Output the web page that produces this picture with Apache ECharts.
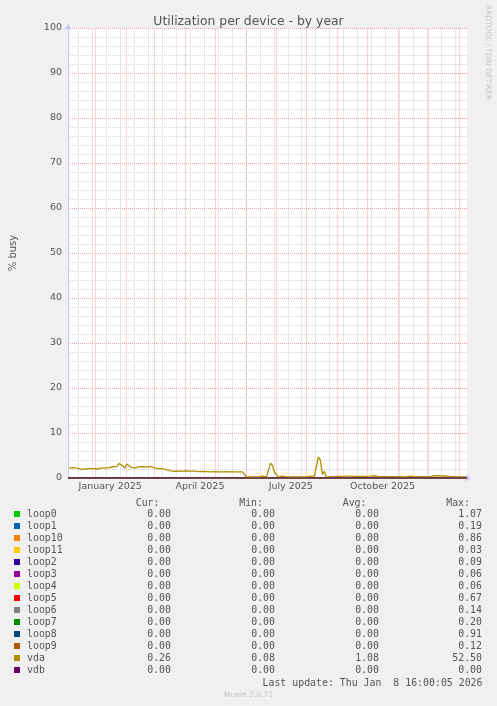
<!DOCTYPE html>
<html>
<head>
<meta charset="utf-8">
<script src="https://cdn.jsdelivr.net/npm/echarts@6/dist/echarts.min.js"></script>
<style>
  html, body { margin: 0; padding: 0; background: #f0f0f0; }
  #chart { width: 497px; height: 706px; }
</style>
</head>
<body>
<div id="chart"></div>
<script>
const DAY = 86400000;
const startTime = Date.UTC(2024, 11, 4, 16, 0, 5);   // 400 days before last update
const endTime = Date.UTC(2026, 0, 8, 16, 0, 5);
const sampleStepDays = 2;

const devices = ['loop0', 'loop1', 'loop10', 'loop11', 'loop2', 'loop3', 'loop4',
  'loop5', 'loop6', 'loop7', 'loop8', 'loop9', 'vda', 'vdb'];
const deviceColors = ['#00CC00', '#0066B3', '#FF8000', '#FFCC00', '#330099', '#990099', '#CCFF00',
  '#FF0000', '#808080', '#008F00', '#00487D', '#B35A00', '#B38F00', '#6B006B'];
const curValues = [0, 0, 0, 0, 0, 0, 0, 0, 0, 0, 0, 0, 0.26, 0];
const minValues = [0, 0, 0, 0, 0, 0, 0, 0, 0, 0, 0, 0, 0.08, 0];
const avgValues = [0, 0, 0, 0, 0, 0, 0, 0, 0, 0, 0, 0, 1.08, 0];
const maxValues = [1.07, 0.19, 0.86, 0.03, 0.09, 0.06, 0.06, 0.67, 0.14, 0.20, 0.91, 0.12, 52.50, 0.00];

// vda, one reading every 2 days from the start of the graph
const vdaValues = [
  2.2, 2.1, 2.3, 2.7, 2.2, 2.0, 1.9, 2.0, 2.0, 2.2,
  2.1, 2.0, 2.1, 2.3, 2.0, 1.9, 2.2, 2.3, 2.2, 2.4,
  2.3, 2.4, 2.5, 2.4, 2.6, 3.2, 2.8, 2.7, 2.2, 3.1,
  2.9, 2.4, 2.8, 2.2, 2.3, 2.5, 2.4, 2.5, 2.6, 2.4,
  2.5, 2.6, 2.6, 2.2, 2.1, 2.1, 2.0, 2.1, 1.9, 1.8,
  1.6, 1.6, 1.6, 1.5, 1.5, 1.5, 1.8, 1.55, 1.55, 1.6,
  1.55, 1.55, 1.5, 1.55, 1.3, 1.4, 1.4, 1.45, 1.4, 1.4,
  1.45, 1.35, 1.35, 1.4, 1.35, 1.35, 1.35, 1.35, 1.35, 1.4,
  1.35, 1.35, 1.35, 1.35, 1.35, 1.35, 1.35, 1.35, 1.35, 0.2,
  0.22, 0.22, 0.22, 0.22, 0.22, 0.22, 0.22, 0.45, 0.22, 0.2,
  0.25, 3.3, 2.8, 1.3, 1.7, 0.2, 0.22, 0.4, 0.22, 0.22,
  0.22, 0.22, 0.22, 0.22, 0.4, 0.22, 0.22, 0.22, 0.22, 0.22,
  0.22, 0.4, 0.25, 0.4, 0.3, 4.7, 4.0, 0.8, 1.5, 0.2,
  0.3, 0.3, 0.35, 0.3, 0.35, 0.4, 0.35, 0.3, 0.35, 0.4,
  0.35, 0.4, 0.5, 0.35, 0.4, 0.35, 0.3, 0.35, 0.4, 0.35,
  0.3, 0.4, 0.7, 0.5, 0.4, 0.35, 0.4, 0.3, 0.35, 0.3,
  0.25, 0.3, 0.25, 0.3, 0.25, 0.3, 0.25, 0.25, 0.3, 0.25,
  0.5, 0.4, 0.45, 0.3, 0.35, 0.3, 0.4, 0.3, 0.35, 0.3,
  0.35, 0.3, 0.4, 0.5, 0.4, 0.5, 0.8, 0.45, 0.4, 0.45,
  0.5, 0.35, 0.3, 0.3, 0.25, 0.25, 0.3, 0.25, 0.25, 0.26
];
// every other device stays on the zero line for the whole year
const flatZero = [0, 0];

const tickLabels = ['January 2025', 'April 2025', 'July 2025', 'October 2025'];
const tickLabelDates = [Date.UTC(2025, 0, 16), Date.UTC(2025, 3, 16), Date.UTC(2025, 6, 16), Date.UTC(2025, 9, 16)];

const SANS = 'DejaVu Sans';
const MONO = 'DejaVu Sans Mono';
const TEXT = '#555555';
const AXIS = '#c6caf2';
const MINOR = '#d4d4d4';
const MAJOR = '#f4a0a0';
const PLOT_H = 450;

// vertical grid: grey every two weeks, red every month
const weekStarts = [];
for (let t = Date.UTC(2024, 11, 15); t < endTime; t += 14 * DAY) weekStarts.push(t);
const monthStarts = [];
for (let m = 0; m <= 12; m++) monthStarts.push(Date.UTC(2025, m, 1));

function gridAxis(values, color, opacity) {
  return {
    type: 'value',
    min: startTime,
    max: endTime,
    position: 'bottom',
    axisLine: { show: false },
    axisLabel: { show: false },
    splitLine: { show: false },
    minorSplitLine: { show: false },
    axisTick: {
      show: true, inside: true, length: PLOT_H, customValues: values,
      lineStyle: { color: color, width: 1, type: 'solid', opacity: opacity }
    }
  };
}

const vdaData = vdaValues.map((v, i) => [startTime + (i * sampleStepDays + 1) * DAY, v]);

const series = devices.map((name, i) => ({
  name: name,
  type: 'line',
  xAxisIndex: 2,
  showSymbol: false,
  symbol: 'none',
  silent: true,
  lineStyle: { width: name === 'vda' ? 1.3 : 1, color: deviceColors[i] },
  itemStyle: { color: deviceColors[i] },
  data: name === 'vda' ? vdaData : [[startTime, flatZero[0]], [endTime, flatZero[1]]]
}));

const fmt = v => v.toFixed(2);
const richCol = (w, align) => ({ width: w, align: align, fontFamily: MONO, fontSize: 9.9, color: TEXT, lineHeight: 12 });

const chart = echarts.init(document.getElementById('chart'));
chart.setOption({
  animation: false,
  backgroundColor: '#f0f0f0',
  color: deviceColors,
  title: {
    text: 'Utilization per device - by year',
    left: 'center',
    top: 11,
    textStyle: { fontFamily: SANS, fontSize: 12.4, fontWeight: 'normal', color: TEXT }
  },
  grid: {
    left: 66, right: 30, top: 28, bottom: 228,
    show: true, backgroundColor: '#ffffff', borderWidth: 0
  },
  legend: {
    orient: 'vertical',
    left: 14,
    top: 508,
    padding: 0,
    itemGap: 0,
    itemWidth: 6,
    itemHeight: 6,
    icon: 'rect',
    selectedMode: false,
    data: devices,
    formatter: name => {
      const i = devices.indexOf(name);
      return '{n|' + name + '}{c|' + fmt(curValues[i]) + '}{m|' + fmt(minValues[i]) +
        '}{a|' + fmt(avgValues[i]) + '}{x|' + fmt(maxValues[i]) + '}';
    },
    textStyle: {
      fontFamily: MONO, fontSize: 9.9, color: TEXT, lineHeight: 12,
      rich: {
        n: Object.assign(richCol(100, 'left'), { padding: [0, 0, 0, 2] }),
        c: richCol(44, 'right'),
        m: richCol(104, 'right'),
        a: richCol(104, 'right'),
        x: richCol(103, 'right')
      }
    }
  },
  xAxis: [
    gridAxis(weekStarts, MINOR, 0.55),
    gridAxis(monthStarts, MAJOR, 0.45),
    {
      type: 'value',
      min: startTime,
      max: endTime,
      position: 'bottom',
      splitLine: { show: false },
      minorSplitLine: { show: false },
      axisTick: { show: false },
      axisLine: {
        show: true,
        lineStyle: { color: AXIS, width: 1 },
        symbol: ['none', 'arrow'],
        symbolSize: [6, 6],
        symbolOffset: [0, 4]
      },
      axisLabel: {
        customValues: tickLabelDates,
        formatter: v => tickLabels[tickLabelDates.indexOf(v)] || '',
        fontFamily: SANS, fontSize: 9.5, color: TEXT, margin: 4,
        hideOverlap: false
      }
    }
  ],
  yAxis: {
    type: 'value',
    min: 0,
    max: 100,
    interval: 10,
    name: '% busy',
    nameLocation: 'middle',
    nameRotate: 90,
    nameGap: 50,
    nameTextStyle: { fontFamily: SANS, fontSize: 10, color: TEXT },
    axisLine: {
      show: true,
      lineStyle: { color: AXIS, width: 1 },
      symbol: ['none', 'arrow'],
      symbolSize: [6, 6],
      symbolOffset: [0, 4]
    },
    axisTick: { show: false },
    axisLabel: { fontFamily: SANS, fontSize: 9.5, color: TEXT, margin: 6 },
    splitLine: { show: true, lineStyle: { color: MAJOR, width: 1, type: [1, 1] } },
    minorTick: { show: false, splitNumber: 5 },
    minorSplitLine: { show: true, lineStyle: { color: MINOR, width: 1, type: [1, 1] } }
  },
  graphic: [
    { type: 'text', x: 488, y: 5, rotation: -Math.PI / 2, silent: true,
      style: { text: 'RRDTOOL / TOBI OETIKER', fontFamily: SANS, fontSize: 7.4, fill: '#c4c4c4',
        textAlign: 'left', textVerticalAlign: 'middle' } },
    { type: 'text', x: 159.5, y: 503, silent: true,
      style: { text: 'Cur:', fontFamily: MONO, fontSize: 9.9, fill: TEXT, textAlign: 'right', textVerticalAlign: 'middle' } },
    { type: 'text', x: 263, y: 503, silent: true,
      style: { text: 'Min:', fontFamily: MONO, fontSize: 9.9, fill: TEXT, textAlign: 'right', textVerticalAlign: 'middle' } },
    { type: 'text', x: 366.5, y: 503, silent: true,
      style: { text: 'Avg:', fontFamily: MONO, fontSize: 9.9, fill: TEXT, textAlign: 'right', textVerticalAlign: 'middle' } },
    { type: 'text', x: 470, y: 503, silent: true,
      style: { text: 'Max:', fontFamily: MONO, fontSize: 9.9, fill: TEXT, textAlign: 'right', textVerticalAlign: 'middle' } },
    { type: 'text', x: 482.5, y: 683, silent: true,
      style: { text: 'Last update: Thu Jan  8 16:00:05 2026', fontFamily: MONO, fontSize: 9.9, fill: TEXT,
        textAlign: 'right', textVerticalAlign: 'middle' } },
    { type: 'text', x: 248.5, y: 695, silent: true,
      style: { text: 'Munin 2.0.75', fontFamily: SANS, fontSize: 7.5, fill: '#c4c4c4',
        textAlign: 'center', textVerticalAlign: 'middle' } }
  ],
  series: series
});
</script>
</body>
</html>
